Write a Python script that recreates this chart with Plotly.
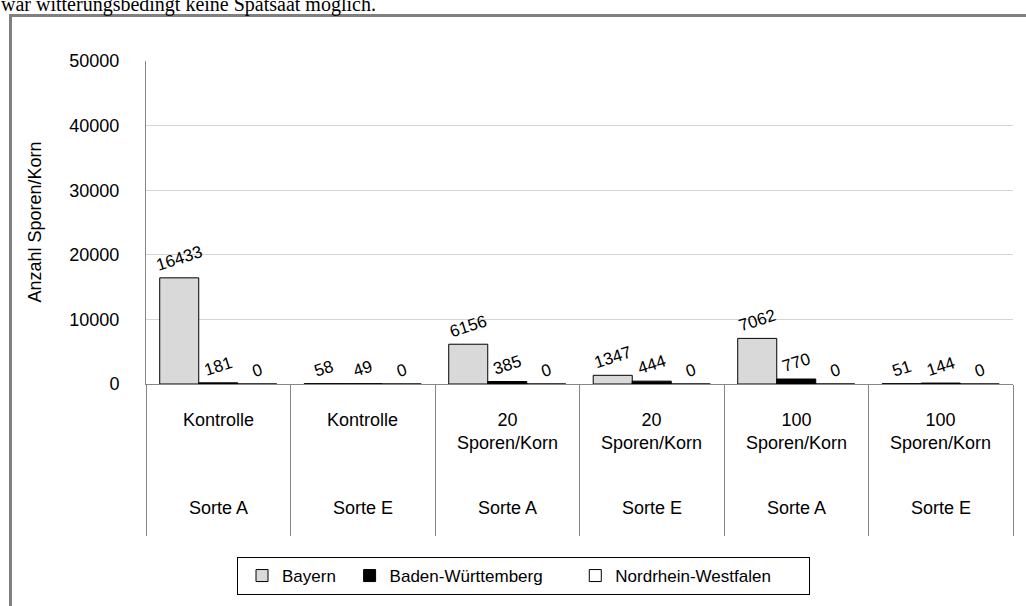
import plotly.graph_objects as go

# ---- data ----
treatments = ["Kontrolle", "Kontrolle", "20<br>Sporen/Korn", "20<br>Sporen/Korn",
              "100<br>Sporen/Korn", "100<br>Sporen/Korn"]
sorten = ["Sorte A", "Sorte E", "Sorte A", "Sorte E", "Sorte A", "Sorte E"]
bayern = [16433, 58, 6156, 1347, 7062, 51]
baden_wuerttemberg = [181, 49, 385, 444, 770, 144]
nordrhein_westfalen = [0, 0, 0, 0, 0, 0]
y_tickvals = [0, 10000, 20000, 30000, 40000, 50000]
series_names = ["Bayern", "Baden-Württemberg", "Nordrhein-Westfalen"]
y_title = "Anzahl Sporen/Korn"
page_text = "war witterungsbedingt keine Spätsaat möglich."

# unique category keys (one per bar group)
x_keys = [f"{t.replace('<br>', ' ')} | {s}" for t, s in zip(treatments, sorten)]

W, H = 1026, 606
ML, MR, MT, MB = 146, 13, 61, 222
PW, PH = W - ML - MR, H - MT - MB


def px_x(px):
    return (px - ML) / PW


def px_y(py):
    return (H - MB - py) / PH


FONT = "Liberation Sans, Arial, sans-serif"
label_font = dict(family=FONT, size=17, color="black")

# legend entry spacing (trailing no-break spaces widen the entries like the original)
legend_pad = [1, 5, 7]

fig = go.Figure()
series = [bayern, baden_wuerttemberg, nordrhein_westfalen]
fills = ["#d9d9d9", "#000000", "#ffffff"]
for name, vals, fill, pad in zip(series_names, series, fills, legend_pad):
    fig.add_trace(go.Bar(
        name=name + "\u00a0" * pad, x=x_keys, y=vals,
        marker=dict(color=fill, line=dict(color="black", width=1)),
        text=[str(v) for v in vals],
        textposition="outside", textangle=-18, constraintext="none",
        cliponaxis=False, textfont=label_font,
    ))

annotations = []
for k, t, s in zip(x_keys, treatments, sorten):
    annotations.append(dict(x=k, xref="x", y=0, yref="paper", yanchor="top",
                            yshift=-24, text=t, showarrow=False, align="center",
                            font=dict(family=FONT, size=18, color="black")))
    annotations.append(dict(x=k, xref="x", y=0, yref="paper", yanchor="middle",
                            yshift=-124, text=s, showarrow=False,
                            font=dict(family=FONT, size=18, color="black")))
annotations.append(dict(x=px_x(34), xref="paper", y=0.5, yref="paper",
                        xanchor="center", yanchor="middle", textangle=-90,
                        text=y_title, showarrow=False,
                        font=dict(family=FONT, size=18, color="black")))
annotations.append(dict(x=px_x(-1), xref="paper", y=px_y(18), yref="paper",
                        xanchor="left", yanchor="bottom", text=page_text,
                        showarrow=False,
                        font=dict(family="Liberation Serif, Times New Roman, serif",
                                  size=20, color="black")))

fig.update_layout(
    width=W, height=H,
    margin=dict(l=ML, r=MR, t=MT, b=MB, autoexpand=False),
    paper_bgcolor="white", plot_bgcolor="white",
    barmode="group", bargap=0.19, bargroupgap=0,
    font=dict(family=FONT, size=18, color="black"),
    showlegend=True,
    legend=dict(orientation="h", x=px_x(523.5), xanchor="center",
                y=px_y(557), yanchor="top", bordercolor="black", borderwidth=1,
                bgcolor="white", font=dict(family=FONT, size=17, color="black"),
                itemwidth=30, traceorder="normal", indentation=4),
    annotations=annotations,
    shapes=[dict(type="rect", xref="paper", yref="paper",
                 x0=px_x(10.5), x1=px_x(W + 40), y0=px_y(H + 40), y1=px_y(15.5),
                 line=dict(color="#808080", width=3), fillcolor="rgba(0,0,0,0)",
                 layer="below")],
)
fig.update_xaxes(type="category", showticklabels=False, showgrid=False,
                 showline=True, linecolor="#868686", linewidth=1,
                 ticks="outside", tickson="boundaries", ticklen=151,
                 tickcolor="#868686", tickwidth=1, range=[-0.5, len(x_keys) - 0.5])
fig.update_yaxes(range=[0, 50000], tickvals=y_tickvals,
                 ticktext=[str(v) for v in y_tickvals],
                 showgrid=True, gridcolor="#d4d4d4", gridwidth=1,
                 showline=True, linecolor="#868686", linewidth=1,
                 zeroline=False, ticks="", ticklabelstandoff=22,
                 tickfont=dict(family=FONT, size=18, color="black"))

fig.write_html("out.html", config={"displayModeBar": False},
               post_script="document.body.style.margin='0';")
